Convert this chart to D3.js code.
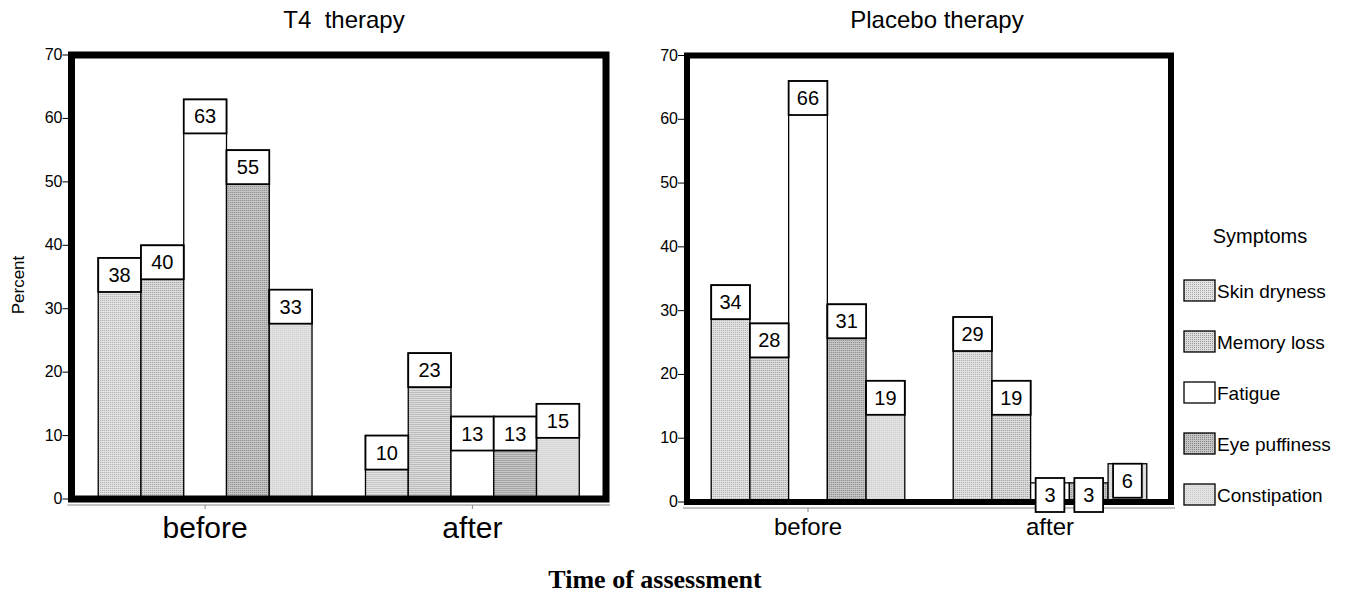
<!DOCTYPE html>
<html>
<head>
<meta charset="utf-8">
<style>
    body { margin: 0; background: #fff; }
    svg { display: block; font-family: Arial, "Liberation Sans", sans-serif; }
</style>
</head>
<body>
<svg width="1349" height="594"></svg>

<script src="https://d3js.org/d3.v7.min.js"></script>
<script>
    // values
    let symptoms = ["Skin dryness", "Memory loss", "Fatigue", "Eye puffiness", "Constipation"]
    let times = ["before", "after"]
    let t4Before = [38, 40, 63, 55, 33]
    let t4After = [10, 23, 13, 13, 15]
    let placeboBefore = [34, 28, 66, 31, 19]
    let placeboAfter = [29, 19, 3, 3, 6]
    let yTicks = [0, 10, 20, 30, 40, 50, 60, 70]

    let svg = d3.select("svg")

    // dotted fills, one per symptom
    let fills = [
        { id: "p-skin", base: "#e4e4e4", dot: "#a6a6a6" },
        { id: "p-mem", base: "#dddddd", dot: "#999999" },
        { id: "p-fat", base: "#ffffff", dot: "#ffffff" },
        { id: "p-eye", base: "#c6c6c6", dot: "#858585" },
        { id: "p-con", base: "#e2e2e2", dot: "#cacaca" }
    ]
    let defs = svg.append("defs")
    fills.forEach(f => {
        let p = defs.append("pattern")
            .attr("id", f.id)
            .attr("patternUnits", "userSpaceOnUse")
            .attr("width", 2).attr("height", 2)
        p.append("rect").attr("width", 2).attr("height", 2).attr("fill", f.base)
        p.append("rect").attr("width", 1).attr("height", 1).attr("fill", f.dot)
    })
    let color = d3.scaleOrdinal().domain(symptoms).range(fills.map(f => "url(#" + f.id + ")"))

    function panel(opts) {
        let g = svg.append("g")
        let x0 = d3.scaleBand().domain(times).range([opts.left, opts.right])
            .paddingInner(0.2).paddingOuter(0.1)
        let x1 = d3.scaleBand().domain(symptoms).range([0, x0.bandwidth()])
        let y = d3.scaleLinear().domain([0, 70]).range([opts.bottom, opts.top])

        let rows = times.map((t, i) => ({
            time: t,
            vals: symptoms.map((s, j) => ({ time: t, sym: s, v: opts.data[i][j] }))
        }))

        // thin x axis under the frame
        g.append("line")
            .attr("x1", opts.left - 4).attr("x2", opts.right + 4)
            .attr("y1", opts.bottom + 6).attr("y2", opts.bottom + 6)
            .style("stroke", "#888").style("stroke-width", 1)
        g.selectAll(".xt").data(times).join("line")
            .attr("x1", d => x0(d) + x0.bandwidth() / 2).attr("x2", d => x0(d) + x0.bandwidth() / 2)
            .attr("y1", opts.bottom + 6).attr("y2", opts.bottom + 10)
            .style("stroke", "#888")

        let bars = g.append("g").selectAll("g").data(rows).join("g")
            .attr("transform", d => "translate(" + x0(d.time) + ",0)")

        bars.selectAll("rect").data(d => d.vals).join("rect")
            .attr("x", d => x1(d.sym))
            .attr("y", d => y(d.v))
            .attr("width", x1.bandwidth())
            .attr("height", d => y(0) - y(d.v))
            .style("fill", d => color(d.sym))
            .style("stroke", "#000")
            .style("stroke-width", 1.3)

        // heavy frame
        g.append("rect")
            .attr("x", opts.left).attr("y", opts.top)
            .attr("width", opts.right - opts.left).attr("height", opts.bottom - opts.top)
            .style("fill", "none").style("stroke", "#000").style("stroke-width", opts.frame)

        // white value boxes at the bar tops
        let boxH = 34
        let small = d => (y(0) - y(d.v)) < 45
        let boxTop = d => (y(0) - y(d.v)) < boxH ? y(0) - 24 : y(d.v)
        let labels = g.append("g").selectAll("g").data(rows).join("g")
            .attr("transform", d => "translate(" + x0(d.time) + ",0)")
        let boxes = labels.selectAll("g").data(d => d.vals).join("g")
        boxes.append("rect")
            .attr("x", d => x1(d.sym) + (small(d) ? 5 : 0))
            .attr("y", boxTop)
            .attr("width", d => x1.bandwidth() - (small(d) ? 10 : 0))
            .attr("height", boxH)
            .style("fill", "#fff")
            .style("stroke", "#000")
            .style("stroke-width", 1.8)
        boxes.append("text")
            .attr("x", d => x1(d.sym) + x1.bandwidth() / 2)
            .attr("y", d => boxTop(d) + boxH / 2 + 7)
            .attr("text-anchor", "middle")
            .style("font-size", "20px")
            .text(d => d.v)

        // y ticks
        g.selectAll(".yt").data(yTicks).join("line")
            .attr("x1", opts.left - 9).attr("x2", opts.left - 3)
            .attr("y1", d => y(d)).attr("y2", d => y(d))
            .style("stroke", "#000")
        g.selectAll(".yl").data(yTicks).join("text")
            .attr("x", opts.left - 9)
            .attr("y", d => y(d) + 5)
            .attr("text-anchor", "end")
            .style("font-size", "16px")
            .text(d => d)

        g.selectAll(".xl").data(times).join("text")
            .attr("x", d => x0(d) + x0.bandwidth() / 2)
            .attr("y", opts.labelY)
            .attr("text-anchor", "middle")
            .style("font-size", opts.labelSize)
            .text(d => d)

        g.append("text")
            .attr("x", opts.titleX).attr("y", 28)
            .attr("text-anchor", "middle")
            .style("font-size", "24px")
            .text(opts.title)
    }

    panel({ data: [t4Before, t4After], left: 71.5, right: 606, top: 55, bottom: 499,
        frame: 7, title: "T4\u00a0\u00a0therapy", titleX: 344, labelY: 538, labelSize: "30px" })
    panel({ data: [placeboBefore, placeboAfter], left: 687, right: 1171, top: 55.5, bottom: 502,
        frame: 6, title: "Placebo therapy", titleX: 937, labelY: 535, labelSize: "24px" })

    svg.append("text")
        .attr("transform", "translate(24,285) rotate(-90)")
        .attr("text-anchor", "middle")
        .style("font-size", "17px")
        .text("Percent")

    svg.append("text")
        .attr("x", 655).attr("y", 588)
        .attr("text-anchor", "middle")
        .style("font-family", "'Times New Roman', 'Liberation Serif', serif")
        .style("font-weight", "bold")
        .style("font-size", "26px")
        .text("Time of assessment")

    // legend
    let legend = svg.append("g")
    legend.append("text")
        .attr("x", 1260).attr("y", 243)
        .attr("text-anchor", "middle")
        .style("font-size", "20px")
        .text("Symptoms")
    let items = legend.selectAll(".li").data(symptoms).join("g")
        .attr("transform", (d, i) => "translate(1184," + (280 + i * 51) + ")")
    items.append("rect")
        .attr("width", 31).attr("height", 21)
        .style("fill", d => color(d))
        .style("stroke", "#000").style("stroke-width", 1.3)
    items.append("text")
        .attr("x", 33).attr("y", 18)
        .style("font-size", "19px")
        .text(d => d)
</script>
</body>
</html>
